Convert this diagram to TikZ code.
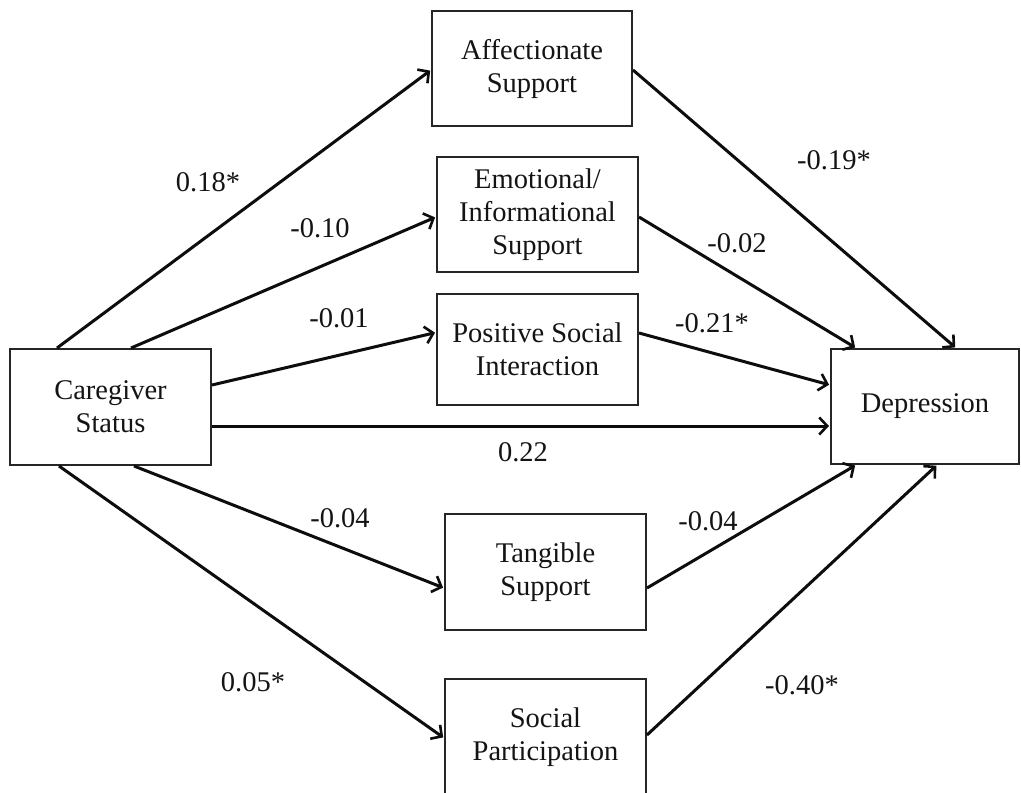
\documentclass[tikz,border=0pt]{standalone}
\usepackage{fontspec}
\setmainfont{Liberation Serif}
\usetikzlibrary{arrows.meta,calc}
\tikzset{
  box/.style={draw=black!85, line width=2pt, fill=white, rectangle, align=center,
    minimum width=201pt, minimum height=115pt, inner sep=0pt,
    font=\fontsize{28.5}{33}\selectfont, text=black!92},
  lbl/.style={font=\fontsize{28.5}{33}\selectfont, text=black!92, inner sep=0pt},
  arr/.style={line width=3pt, black!95, -{Straight Barb[length=8pt,width=17pt,line width=2.6pt]}, shorten >=1pt}
}
\begin{document}
\begin{tikzpicture}[x=1pt,y=-1pt]
\useasboundingbox (0,0) rectangle (1021,793);
\fill[white] (0,0) rectangle (1021,793);
\begin{scope}
\clip (0,0) rectangle (1021,793);
\node[box, minimum width=201pt, minimum height=116pt] (care) at (110.5,407) {Caregiver\\Status};
\node[box, minimum width=188pt, minimum height=115pt] (dep) at (925,406.5) {Depression};
\node[box, minimum width=200pt] (aff) at (532,68.5) {Affectionate\\Support};
\node[box] (emo) at (537.5,214.5) {Emotional/\\Informational\\Support};
\node[box, minimum height=111pt] (pos) at (537.5,349.5) {Positive Social\\Interaction};
\node[box, minimum height=116pt] (tan) at (545.5,572) {Tangible\\Support};
\node[box, minimum height=116pt] (soc) at (545.5,737) {Social\\Participation};

% caregiver -> mediators
\draw[arr] ([xshift=48pt]care.north west) -- ([yshift=-1.5pt]aff.west);
\draw[arr] ([xshift=122pt]care.north west) -- ([yshift=-2.5pt]emo.west);
\draw[arr] ([yshift=22pt]care.east) -- ([yshift=17pt]pos.west);
\draw[arr] ([yshift=-19pt]care.east) -- ([yshift=-19pt]care.east -| dep.west);
\draw[arr] ([xshift=125pt]care.south west) -- ([yshift=-16pt]tan.west);
\draw[arr] ([xshift=50pt]care.south west) -- ([yshift=-1pt]soc.west);

% mediators -> depression
\draw[arr] ([yshift=-1.5pt]aff.east) -- ([xshift=126pt]dep.north west);
\draw[arr] ([yshift=-2.5pt]emo.east) -- ([xshift=26pt]dep.north west);
\draw[arr] ([yshift=16.5pt]pos.east) -- ([yshift=21.5pt]dep.west);
\draw[arr] ([yshift=-16pt]tan.east) -- ([xshift=26pt]dep.south west);
\draw[arr] ([yshift=2pt]soc.east) -- ([xshift=107pt]dep.south west);

% labels
\node[lbl] (l1) at (208,182) {0.18*};
\node[lbl] (l2) at (320,228) {-0.10};
\node[lbl] (l3) at (339,318) {-0.01};
\node[lbl] (l4) at (523,452) {0.22};
\node[lbl] (l5) at (340,518) {-0.04};
\node[lbl] (l6) at (253,682) {0.05*};
\node[lbl] (l7) at (834,160) {-0.19*};
\node[lbl] (l8) at (737,243) {-0.02};
\node[lbl] (l9) at (712,323) {-0.21*};
\node[lbl] (l10) at (708,521) {-0.04};
\node[lbl] (l11) at (802,685) {-0.40*};
\end{scope}
\end{tikzpicture}
\end{document}
